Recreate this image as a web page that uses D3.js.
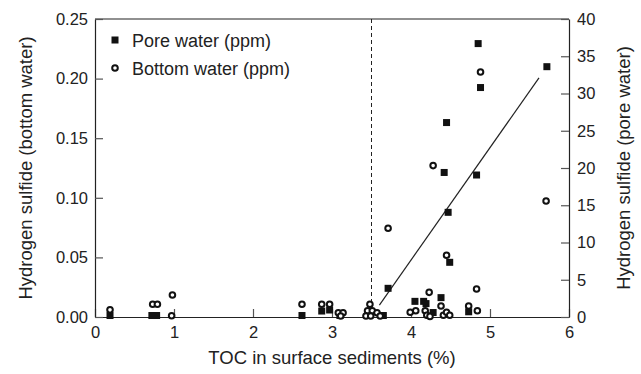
<!DOCTYPE html>
<html>
<head>
<meta charset="utf-8">
<script src="https://cdn.jsdelivr.net/npm/d3@7"></script>
<style>
  body { margin: 0; background: #fff; }
  svg { font-family: "Liberation Sans", Arial, sans-serif; }
</style>
</head>
<body>
<div id="chart"></div>
<script>
// pore water H2S (ppm, right axis) vs TOC (%)
const poreToc = [0.19, 0.72, 0.78, 2.62, 2.87, 2.97, 3.1, 3.65, 3.71, 4.05, 4.16, 4.19, 4.28, 4.38, 4.45, 4.42, 4.47, 4.49, 4.73, 4.83, 4.85, 4.88, 5.72];
const poreVal = [0.2, 0.2, 0.2, 0.2, 0.8, 0.94, 0.2, 0.2, 3.85, 2.1, 2.1, 1.8, 0.6, 2.6, 26.1, 19.4, 14.05, 7.34, 0.7, 19.06, 36.7, 30.8, 33.6];
// bottom water H2S (ppm, left axis) vs TOC (%)
const bottomToc = [0.19, 0.73, 0.79, 0.98, 0.97, 2.62, 2.87, 2.97, 3.08, 3.14, 3.11, 3.48, 3.45, 3.51, 3.43, 3.49, 3.57, 3.61, 3.71, 3.99, 4.06, 4.18, 4.2, 4.24, 4.23, 4.28, 4.38, 4.41, 4.45, 4.49, 4.45, 4.73, 4.84, 4.83, 4.88, 5.71];
const bottomVal = [0.006, 0.0107, 0.0107, 0.0185, 0.001, 0.0107, 0.0107, 0.0107, 0.0036, 0.0036, 0.0008, 0.0107, 0.0053, 0.0053, 0.0008, 0.0008, 0.0036, 0.0008, 0.0744, 0.004, 0.0053, 0.0053, 0.0015, 0.0005, 0.0207, 0.127, 0.0092, 0.0015, 0.004, 0.0015, 0.0518, 0.0092, 0.0053, 0.0235, 0.2055, 0.0973];
// fitted line for pore water (TOC, ppm)
const fitToc = [3.6, 5.62];
const fitVal = [1.6, 32.1];
const threshold = 3.5;

const xTicks = [0, 1, 2, 3, 4, 5, 6];
const leftTicks = [0, 0.05, 0.10, 0.15, 0.20, 0.25];
const rightTicks = [0, 5, 10, 15, 20, 25, 30, 35, 40];

const W = 641, H = 374;
const margin = {top: 19, right: 72, bottom: 57, left: 95};
const width = W - margin.left - margin.right;
const height = H - margin.top - margin.bottom;
const tickFont = 16.5, titleFont = 18.5, legendFont = 18;

const svg = d3.select("#chart").append("svg")
    .attr("width", W)
    .attr("height", H);
const g = svg.append("g")
    .attr("transform", `translate(${margin.left},${margin.top})`);

const x = d3.scaleLinear().domain([0, 6]).range([0, width]);
const yL = d3.scaleLinear().domain([0, 0.25]).range([height, 0]);
const yR = d3.scaleLinear().domain([0, 40]).range([height, 0]);

// frame top line
g.append("line")
    .attr("x1", 0).attr("x2", width).attr("y1", 0).attr("y2", 0)
    .attr("stroke", "#222").attr("stroke-width", 1.2);

const styleAxis = sel => {
    sel.select(".domain").attr("stroke", "#222").attr("stroke-width", 1.2);
    sel.selectAll(".tick line").attr("stroke", "#555").attr("stroke-width", 1.2);
    sel.selectAll(".tick text").attr("font-size", tickFont).attr("fill", "#222")
        .attr("font-family", "Liberation Sans, Arial, sans-serif");
};

g.append("g")
    .attr("transform", `translate(0,${height})`)
    .call(d3.axisBottom(x).tickValues(xTicks).tickFormat(d3.format("d"))
        .tickSizeInner(-8).tickSizeOuter(0).tickPadding(9))
    .call(styleAxis);

g.append("g")
    .call(d3.axisLeft(yL).tickValues(leftTicks).tickFormat(d3.format(".2f"))
        .tickSizeInner(-8).tickSizeOuter(0).tickPadding(7))
    .call(styleAxis);

g.append("g")
    .attr("transform", `translate(${width},0)`)
    .call(d3.axisRight(yR).tickValues(rightTicks)
        .tickSizeInner(-8).tickSizeOuter(0).tickPadding(8))
    .call(styleAxis);

// dashed threshold line
g.append("line")
    .attr("x1", x(threshold)).attr("x2", x(threshold))
    .attr("y1", 0).attr("y2", height)
    .attr("stroke", "#222").attr("stroke-width", 1)
    .attr("stroke-dasharray", "4,3");

// regression line
g.append("line")
    .attr("x1", x(fitToc[0])).attr("y1", yR(fitVal[0]))
    .attr("x2", x(fitToc[1])).attr("y2", yR(fitVal[1]))
    .attr("stroke", "#222").attr("stroke-width", 1.2);

// pore water squares
const sq = 7;
g.selectAll(".pore")
    .data(d3.zip(poreToc, poreVal))
    .join("rect")
    .attr("class", "pore")
    .attr("x", d => x(d[0]) - sq / 2)
    .attr("y", d => yR(d[1]) - sq / 2)
    .attr("width", sq).attr("height", sq)
    .attr("fill", "#111");

// bottom water circles
g.selectAll(".bottom")
    .data(d3.zip(bottomToc, bottomVal))
    .join("circle")
    .attr("class", "bottom")
    .attr("cx", d => x(d[0]))
    .attr("cy", d => yL(d[1]))
    .attr("r", 2.8)
    .attr("fill", "#fff")
    .attr("stroke", "#111")
    .attr("stroke-width", 2);

// legend
const legend = g.append("g").attr("transform", "translate(20,21)");
legend.append("rect")
    .attr("x", -sq / 2).attr("y", -sq / 2).attr("width", sq).attr("height", sq)
    .attr("fill", "#111");
legend.append("text")
    .attr("x", 17).attr("y", 6.5).attr("font-size", legendFont).attr("fill", "#222")
    .text("Pore water (ppm)");
legend.append("circle")
    .attr("cx", 0).attr("cy", 28).attr("r", 2.8)
    .attr("fill", "#fff").attr("stroke", "#111").attr("stroke-width", 2);
legend.append("text")
    .attr("x", 17).attr("y", 34.5).attr("font-size", legendFont).attr("fill", "#222")
    .text("Bottom water (ppm)");

// axis titles
svg.append("text")
    .attr("x", margin.left + width / 2).attr("y", 364)
    .attr("text-anchor", "middle").attr("font-size", titleFont).attr("fill", "#222")
    .text("TOC in surface sediments (%)");
svg.append("text")
    .attr("transform", `translate(32,${margin.top + height / 2}) rotate(-90)`)
    .attr("text-anchor", "middle").attr("font-size", titleFont).attr("fill", "#222")
    .text("Hydrogen sulfide (bottom water)");
svg.append("text")
    .attr("transform", `translate(630,${margin.top + height / 2}) rotate(-90)`)
    .attr("text-anchor", "middle").attr("font-size", titleFont).attr("fill", "#222")
    .text("Hydrogen sulfide (pore water)");
</script>
</body>
</html>
